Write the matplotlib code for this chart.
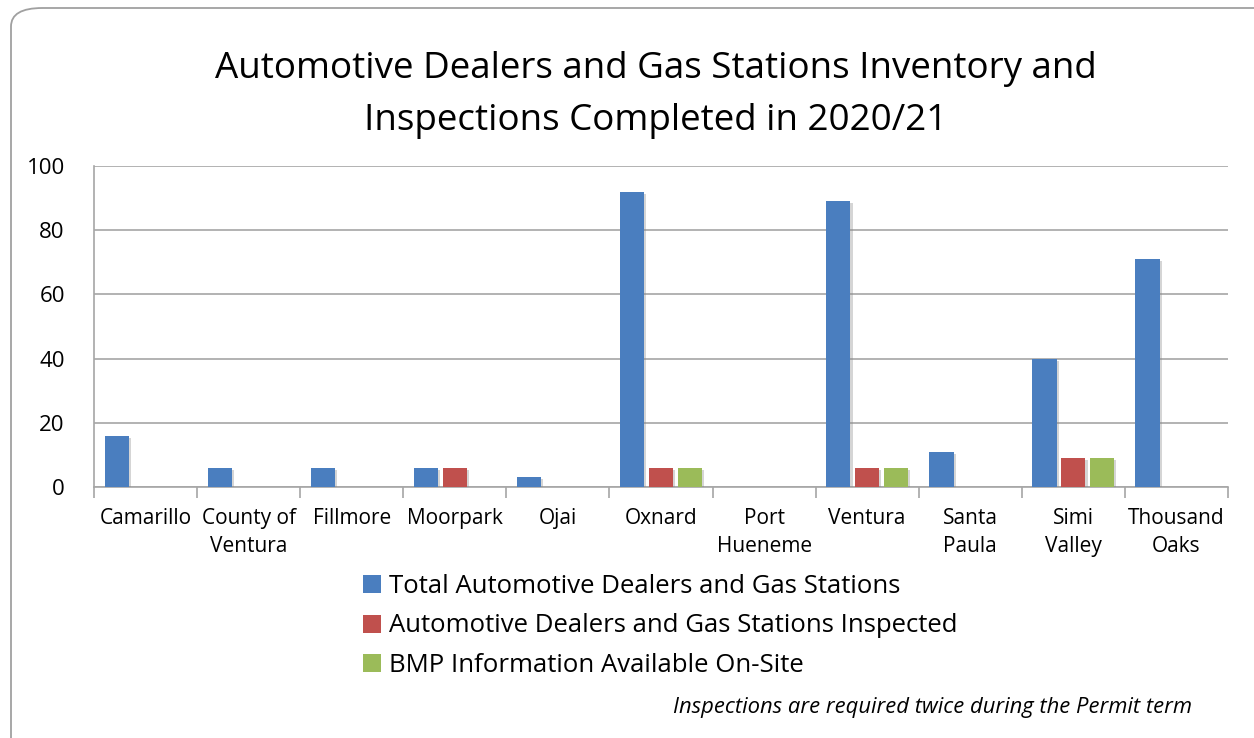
import matplotlib
matplotlib.use("Agg")
import matplotlib.pyplot as plt
import numpy as np
from matplotlib.patches import FancyBboxPatch
import matplotlib.patheffects as pe

categories = ["Camarillo", "County of\nVentura", "Fillmore", "Moorpark", "Ojai", "Oxnard",
              "Port\nHueneme", "Ventura", "Santa\nPaula", "Simi\nValley", "Thousand\nOaks"]
total = [16, 6, 6, 6, 3, 92, 0, 89, 11, 40, 71]
inspected = [0, 0, 0, 6, 0, 6, 0, 6, 0, 9, 0]
bmp = [0, 0, 0, 0, 0, 6, 0, 6, 0, 9, 0]
series_names = ["Total Automotive Dealers and Gas Stations",
                "Automotive Dealers and Gas Stations Inspected",
                "BMP Information Available On-Site"]
colors = ["#4a7ebf", "#c0504d", "#9bbb59"]

FONT = ["Open Sans", "DejaVu Sans"]
plt.rcParams['font.family'] = FONT

fig = plt.figure(figsize=(12.54, 7.38), dpi=100)
# rounded border
border = FancyBboxPatch((11/1254, 0.0 - 0.05), 1.2, 1 - 8/738 + 0.05,
                        boxstyle="round,pad=0,rounding_size=0.025",
                        transform=fig.transFigure, fill=False,
                        edgecolor="#a0a0a0", linewidth=1.3, zorder=0)
fig.patches.append(border)

ax = fig.add_axes([94/1254, 1 - 487/738, (1228 - 94)/1254, (487 - 166)/738])
x = np.arange(len(categories))
w = 0.235
step = 0.28
shadow = [pe.SimplePatchShadow(offset=(1.5, -1.5), shadow_rgbFace="#888888", alpha=0.35), pe.Normal()]
for i, (vals, c, name) in enumerate(zip([total, inspected, bmp], colors, series_names)):
    bars = ax.bar(x + (i - 1) * step, vals, width=w, color=c, label=name, zorder=3)
    for b in bars:
        if b.get_height() > 0:
            b.set_path_effects(shadow)

ax.set_xlim(-0.5, len(categories) - 0.5)
ax.set_ylim(0, 100)
ax.set_yticks(range(0, 101, 20))
ax.yaxis.grid(True, color="#a6a6a6", linewidth=1.2, zorder=0)
ax.set_axisbelow(True)
for s in ["top", "right"]:
    ax.spines[s].set_visible(False)
ax.spines["left"].set_color("#a6a6a6")
ax.spines["bottom"].set_color("#a6a6a6")
ax.spines["left"].set_linewidth(1.2)
ax.spines["bottom"].set_linewidth(1.2)
ax.tick_params(axis="y", length=0, pad=21, labelsize=16)
ax.set_xticks(x)
ax.set_xticklabels(categories, fontsize=15, linespacing=1.45)
ax.tick_params(axis="x", length=0, pad=15)
ax.set_xticks(np.arange(-0.5, len(categories)), minor=True)
ax.tick_params(axis="x", which="minor", length=8, color="#a6a6a6", width=1.2)

fig.text(0.523, 1 - 95/738, "Automotive Dealers and Gas Stations Inventory and\nInspections Completed in 2020/21",
         ha="center", va="center", fontsize=26.5, linespacing=1.62)

handles, labels = ax.get_legend_handles_labels()
leg = fig.legend(handles, labels, loc="center", bbox_to_anchor=(0.5 + 33/1254, 1 - 626/738),
                 frameon=False, fontsize=18.5, handlelength=0.7, handleheight=0.7,
                 handletextpad=0.3, labelspacing=0.55)
for h in leg.legend_handles:
    h.set_path_effects([])

fig.text(1192/1254, 1 - 707/738, "Inspections are required twice during the Permit term",
         ha="right", va="center", fontsize=15.8, style="italic")

fig.savefig("out.png", dpi=100)
